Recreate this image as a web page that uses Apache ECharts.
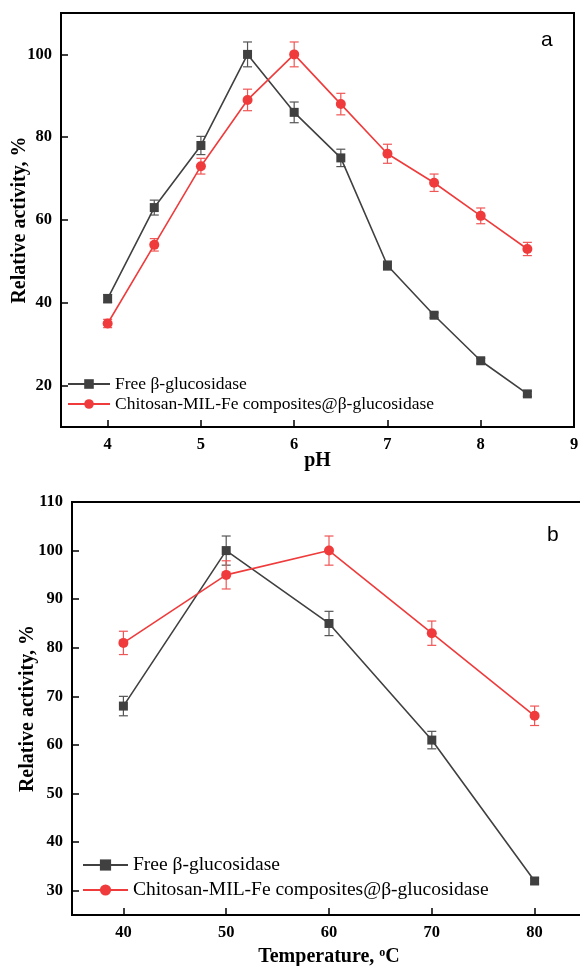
<!DOCTYPE html>
<html>
<head>
<meta charset="utf-8">
<script src="https://cdn.jsdelivr.net/npm/echarts@6/dist/echarts.min.js"></script>
<style>html,body{margin:0;padding:0;background:#fff}#c{width:580px;height:966px}</style>
</head>
<body>
<div id="c"></div>
<script>
// ---- Data: panel a (pH) ----
const pHValues = [4, 4.5, 5, 5.5, 6, 6.5, 7, 7.5, 8, 8.5];
const freePH = [41, 63, 78, 100, 86, 75, 49, 37, 26, 18];
const freePHErr = [1, 1.8, 2.2, 3, 2.5, 2.1, 1.1, 0.6, 0.6, 0.6];
const compPH = [35, 54, 73, 89, 100, 88, 76, 69, 61, 53];
const compPHErr = [1, 1.5, 1.9, 2.6, 3, 2.6, 2.3, 2.1, 1.9, 1.6];
const pHTicks = [4, 5, 6, 7, 8, 9];
const actTicksA = [20, 40, 60, 80, 100];

// ---- Data: panel b (temperature) ----
const tempValues = [40, 50, 60, 70, 80];
const freeT = [68, 100, 85, 61, 32];
const freeTErr = [2, 3, 2.5, 1.8, 0.6];
const compT = [81, 95, 100, 83, 66];
const compTErr = [2.4, 2.9, 3, 2.5, 2];
const tempTicks = [40, 50, 60, 70, 80];
const actTicksB = [30, 40, 50, 60, 70, 80, 90, 100, 110];

const nameFree = 'Free β-glucosidase';
const nameComp = 'Chitosan-MIL-Fe composites@β-glucosidase';
const GRAY = '#404040', RED = '#ef3b3b';
const SERIF = 'Liberation Serif, Times New Roman, serif';

const pair = (xs, ys) => xs.map((x, i) => [x, ys[i]]);
const errs = (xs, ys, es) => xs.map((x, i) => [x, ys[i] - es[i], ys[i] + es[i]]);

function errRender(params, api) {
  const x = api.value(0), lo = api.value(1), hi = api.value(2);
  const a = api.coord([x, lo]), b = api.coord([x, hi]);
  const hw = 4.5;
  const style = { stroke: api.visual('color'), lineWidth: 1.2, fill: null };
  return { type: 'group', children: [
    { type: 'line', shape: { x1: a[0], y1: a[1], x2: b[0], y2: b[1] }, style },
    { type: 'line', shape: { x1: a[0] - hw, y1: a[1], x2: a[0] + hw, y2: a[1] }, style },
    { type: 'line', shape: { x1: b[0] - hw, y1: b[1], x2: b[0] + hw, y2: b[1] }, style }
  ]};
}

function xAxisCfg(idx, min, max, ticks, nameRich, gap) {
  return {
    type: 'value', gridIndex: idx, min, max,
    name: nameRich, nameLocation: 'middle', nameGap: gap, nameMoveOverlap: false,
    nameTextStyle: { fontFamily: SERIF, fontWeight: 'bold', fontSize: 20, color: '#000',
      rich: { sup: { fontFamily: SERIF, fontWeight: 'bold', fontSize: 12, verticalAlign: 'top', padding: [0, 0, 8, 0], color: '#000' },
              n: { fontFamily: SERIF, fontWeight: 'bold', fontSize: 20, color: '#000' } } },
    axisLine: { show: true, onZero: false, lineStyle: { color: '#000', width: 2 } },
    axisTick: { show: true, inside: true, length: 7, customValues: ticks, lineStyle: { color: '#000', width: 1.5 } },
    axisLabel: { customValues: ticks, margin: 9, fontFamily: SERIF, fontWeight: 'bold', fontSize: 16.5, color: '#000' },
    splitLine: { show: false }
  };
}
function yAxisCfg(idx, min, max, ticks, gap) {
  return {
    type: 'value', gridIndex: idx, min, max,
    name: 'Relative activity, %', nameLocation: 'middle', nameGap: gap, nameMoveOverlap: false,
    nameTextStyle: { fontFamily: SERIF, fontWeight: 'bold', fontSize: 20, color: '#000' },
    axisLine: { show: true, onZero: false, lineStyle: { color: '#000', width: 2 } },
    axisTick: { show: true, inside: true, length: 7, customValues: ticks, lineStyle: { color: '#000', width: 1.5 } },
    axisLabel: { customValues: ticks, margin: 9, fontFamily: SERIF, fontWeight: 'bold', fontSize: 16.5, color: '#000' },
    splitLine: { show: false }
  };
}
function lineSeries(name, idx, data, color, symbol, size) {
  return { type: 'line', name, xAxisIndex: idx, yAxisIndex: idx, data, symbol, symbolSize: size,
    lineStyle: { color, width: 1.6 }, itemStyle: { color }, z: 3, animation: false };
}
function errSeries(idx, data, color) {
  return { type: 'custom', name: 'err', xAxisIndex: idx, yAxisIndex: idx, data, renderItem: errRender,
    itemStyle: { color }, z: 2, animation: false, encode: { x: 0, y: [1, 2] } };
}

const chart = echarts.init(document.getElementById('c'), null, { renderer: 'canvas' });
chart.setOption({
  backgroundColor: '#fff',
  animation: false,
  grid: [
    { left: 61, top: 13, width: 513, height: 414, show: true, borderColor: '#000', borderWidth: 2, containLabel: false, outerBoundsMode: 'none' },
    { left: 72, top: 502, width: 514, height: 413, show: true, borderColor: '#000', borderWidth: 2, containLabel: false, outerBoundsMode: 'none' }
  ],
  xAxis: [
    xAxisCfg(0, 3.5, 9, pHTicks, 'pH', 24),
    xAxisCfg(1, 35, 85, tempTicks, '{n|Temperature, }{sup|o}{n|C}', 32)
  ],
  yAxis: [
    yAxisCfg(0, 10, 110, actTicksA, 31),
    yAxisCfg(1, 25, 110, actTicksB, 34)
  ],
  legend: [
    { orient: 'vertical', left: 62, top: 370, itemWidth: 42, itemHeight: 12, itemGap: 2,
      data: [nameFree, nameComp], textStyle: { fontFamily: SERIF, fontSize: 17.5, color: '#000' },
      selectedMode: false },
    { orient: 'vertical', left: 77, top: 850, itemWidth: 45, itemHeight: 14, itemGap: 5,
      data: [nameFree, nameComp], textStyle: { fontFamily: SERIF, fontSize: 19.5, color: '#000' },
      selectedMode: false }
  ],
  graphic: [
    { type: 'text', left: 541, top: 30, style: { text: 'a', fontFamily: 'Liberation Sans, Arial, sans-serif', fontSize: 21, fill: '#000' } },
    { type: 'text', left: 547, top: 525, style: { text: 'b', fontFamily: 'Liberation Sans, Arial, sans-serif', fontSize: 21, fill: '#000' } }
  ],
  series: [
    errSeries(0, errs(pHValues, freePH, freePHErr), '#555'),
    errSeries(0, errs(pHValues, compPH, compPHErr), '#f05555'),
    lineSeries(nameFree, 0, pair(pHValues, freePH), GRAY, 'rect', 9),
    lineSeries(nameComp, 0, pair(pHValues, compPH), RED, 'circle', 10),
    errSeries(1, errs(tempValues, freeT, freeTErr), '#555'),
    errSeries(1, errs(tempValues, compT, compTErr), '#f05555'),
    lineSeries(nameFree, 1, pair(tempValues, freeT), GRAY, 'rect', 9),
    lineSeries(nameComp, 1, pair(tempValues, compT), RED, 'circle', 10)
  ]
});
</script>
</body>
</html>
